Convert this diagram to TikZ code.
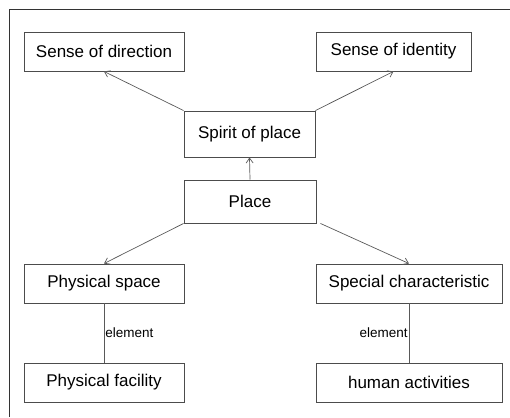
\documentclass[tikz,border=0pt]{standalone}
\usepackage{fontspec}
\setmainfont{Liberation Sans}
\usetikzlibrary{arrows.meta}
\begin{document}
\begin{tikzpicture}[x=1pt,y=-1pt,
  box/.style={draw=black!70,line width=0.9pt,fill=white,inner sep=0pt,
    minimum height=39pt,font=\fontsize{17}{17}\selectfont},
  link/.style={draw=black!65,line width=0.7pt,
    -{Straight Barb[length=5pt,width=7pt,line width=0.7pt]}},
  plain/.style={draw=black!65,line width=0.8pt},
  lbl/.style={font=\fontsize{13.5}{13.5}\selectfont,inner sep=1pt}]
  \useasboundingbox (0,0) rectangle (510,417);
  % partial outer frame
  \coordinate (fl) at (9,417);
  \coordinate (fc) at (9,10);
  \coordinate (fr) at (510,10);
  \draw[black!80,line width=1pt] (fl) -- (fc) -- (fr);

  \node[box,minimum width=160pt] (sd) at (104,51.5) {Sense of direction};
  \node[box,minimum width=155pt] (si) at (393.5,51.5) {Sense of identity};
  \node[box,minimum width=131pt,minimum height=46pt] (sp) at (249.5,134) {Spirit of place};
  \node[box,minimum width=132pt,minimum height=43pt] (pl) at (250,201.5) {Place};
  \node[box,minimum width=160pt] (ps) at (104,283.5) {Physical space};
  \node[box,minimum width=186pt] (sc) at (409,283.5) {Special characteristic};
  \node[box,minimum width=160pt] (pf) at (104,382.5) {Physical facility};
  \node[box,minimum width=186pt] (ha) at (409,382.5) {human activities};

  \draw[link] (sp.north west) -- (sd.south);
  \draw[link] (sp.north east) -- (si.south);
  \draw[link] (pl.north) -- (sp.south);
  \draw[link] (pl.south west) -- (ps.north);
  \draw[link] ([xshift=4pt]pl.south east) -- (sc.north);

  \draw[plain] (ps.south) -- node[lbl,right,pos=0.5] {element} (pf.north);
  \draw[plain] (sc.south) -- node[lbl,left,pos=0.5] {element} (ha.north);
\end{tikzpicture}
\end{document}
